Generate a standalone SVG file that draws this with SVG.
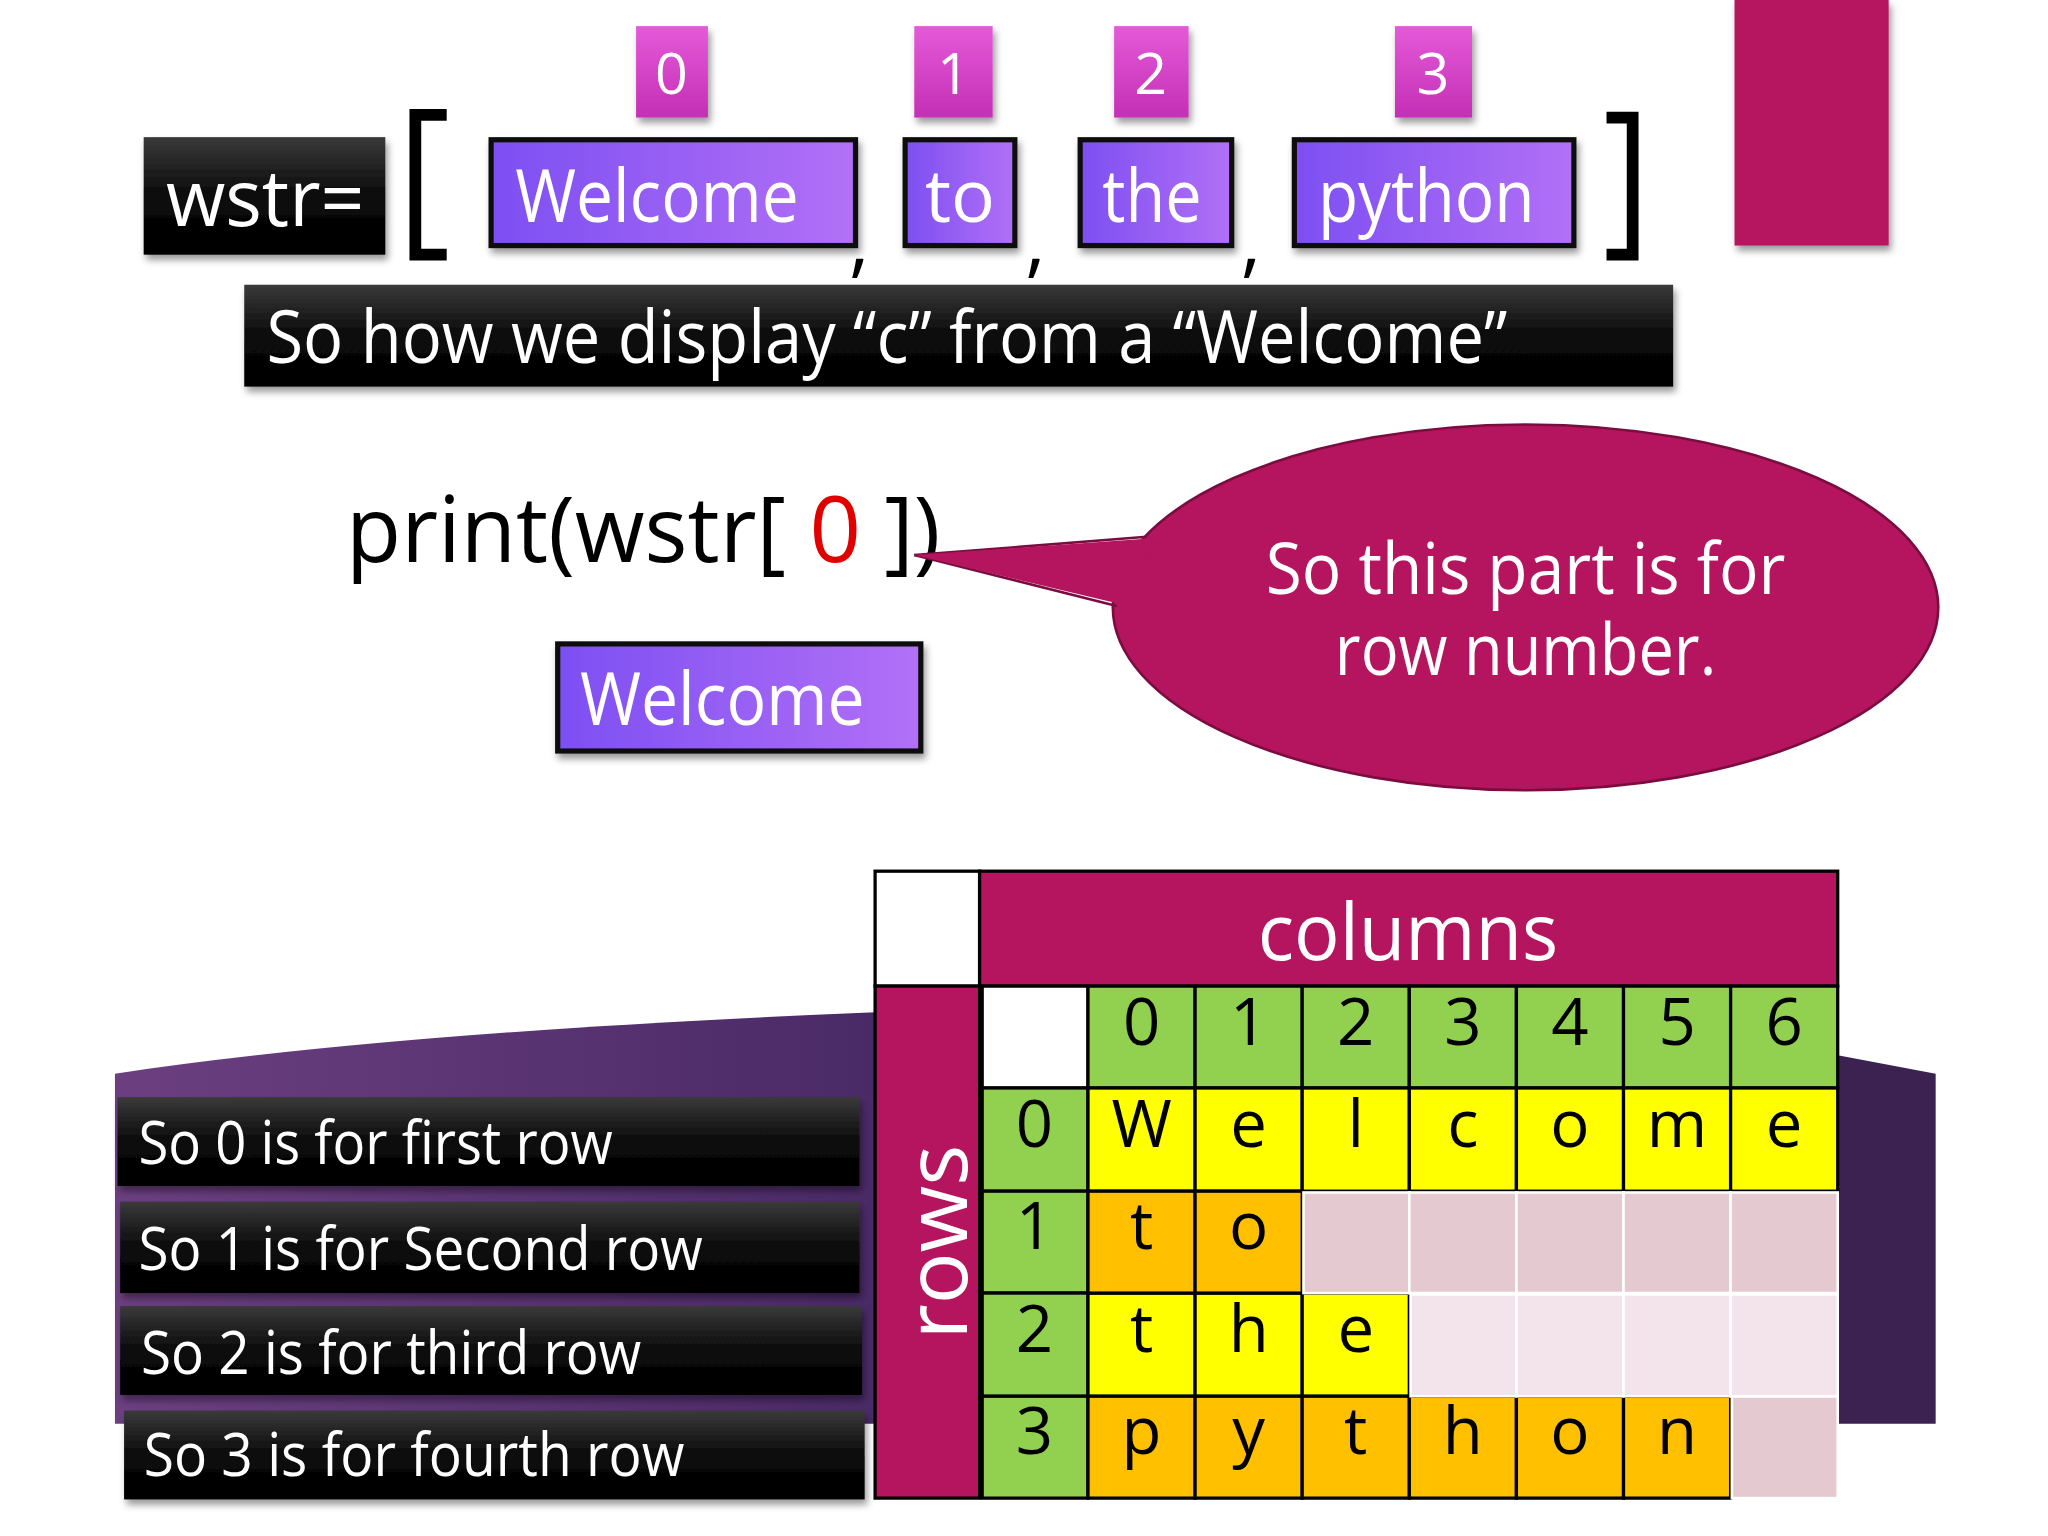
<svg xmlns="http://www.w3.org/2000/svg" width="2048" height="1536" viewBox="0 0 2048 1536">
<style>
text{font-family:"Open Sans","Noto Sans",sans-serif;}
.w{fill:#fff}.k{fill:#000}
.idx{fill:#fff;font-size:44px;text-anchor:middle}
.pb{fill:url(#pg);stroke:#111;stroke-width:4}
.pt{fill:#fff;font-size:56px;text-anchor:middle}
.bb{fill:url(#bg)}
.bt{fill:#fff;font-size:46px}
.c{stroke:#000;stroke-width:2.5}
.ct{font-size:50px;text-anchor:middle;fill:#000}
</style>
<defs>
<linearGradient id="pg" x1="0" y1="0" x2="1" y2="0"><stop offset="0" stop-color="#7d4ff2"/><stop offset="1" stop-color="#b270f6"/></linearGradient>
<linearGradient id="bg" x1="0" y1="0" x2="0" y2="1"><stop offset="0" stop-color="#3a3a3a"/><stop offset="0.5" stop-color="#0a0a0a"/><stop offset="1" stop-color="#000"/></linearGradient>
<linearGradient id="mg" x1="0" y1="0" x2="0" y2="1"><stop offset="0" stop-color="#e45ad8"/><stop offset="1" stop-color="#c42fb5"/></linearGradient>
<linearGradient id="purp" x1="0" y1="0" x2="1" y2="0"><stop offset="0" stop-color="#6b3f80"/><stop offset="1" stop-color="#4a2a66"/></linearGradient>
<filter id="sh" x="-10%" y="-10%" width="130%" height="140%"><feDropShadow dx="2" dy="4" stdDeviation="3" flood-opacity="0.4"/></filter>
</defs>
<g transform="scale(1.30612)">
<g id="bg-shapes">
<rect x="1328" y="0" width="118" height="188" fill="#b5145e" filter="url(#sh)"/>
<path d="M88 822 Q300 790 670 775 L670 1090 L88 1090 Z" fill="url(#purp)"/>
<path d="M1407 808 L1482 822 L1482 1090 L1407 1090Z" fill="#3b2250"/>
</g>
<g id="indices">
<rect x="487" y="20" width="55" height="70" fill="url(#mg)" filter="url(#sh)"/><text class="idx" x="514" y="72">0</text>
<rect x="700" y="20" width="60" height="70" fill="url(#mg)" filter="url(#sh)"/><text class="idx" x="730" y="72">1</text>
<rect x="853" y="20" width="57" height="70" fill="url(#mg)" filter="url(#sh)"/><text class="idx" x="881" y="72">2</text>
<rect x="1068" y="20" width="59" height="70" fill="url(#mg)" filter="url(#sh)"/><text class="idx" x="1097" y="72">3</text>
</g>
<g id="wstr"><rect x="110" y="105" width="185" height="90" class="bb" filter="url(#sh)"/><text x="127" y="173" class="w" font-size="60" textLength="152" lengthAdjust="spacingAndGlyphs">wstr=</text></g>
<g id="brackets">
<path d="M342 88 H318 V195 H342" fill="none" stroke="#000" stroke-width="9"/>
<path d="M1230 90 H1250 V195 H1230" fill="none" stroke="#000" stroke-width="9"/>
<text x="650" y="205" font-size="60" class="k">,</text>
<text x="785" y="205" font-size="60" class="k">,</text>
<text x="950" y="205" font-size="60" class="k">,</text>
</g>
<g id="list">
<rect x="376" y="107" width="279" height="81" class="pb" filter="url(#sh)"/><text class="pt" x="503" y="170" textLength="217" lengthAdjust="spacingAndGlyphs">Welcome</text>
<rect x="693" y="107" width="84" height="81" class="pb" filter="url(#sh)"/><text class="pt" x="735" y="170">to</text>
<rect x="827" y="107" width="116" height="81" class="pb" filter="url(#sh)"/><text class="pt" x="882" y="170" textLength="76" lengthAdjust="spacingAndGlyphs">the</text>
<rect x="991" y="107" width="214" height="81" class="pb" filter="url(#sh)"/><text class="pt" x="1092" y="170" textLength="166" lengthAdjust="spacingAndGlyphs">python</text>
</g>
<g id="question"><rect x="187" y="218" width="1094" height="78" class="bb" filter="url(#sh)"/><text x="204" y="278" class="w" font-size="56" textLength="950" lengthAdjust="spacingAndGlyphs">So how we display “c” from a “Welcome”</text></g>
<g id="print"><text x="265" y="430" font-size="70" class="k" textLength="455" lengthAdjust="spacingAndGlyphs">print(wstr[ <tspan fill="#e00000">0</tspan> ])</text></g>
<g id="callout">
<ellipse cx="1168" cy="465" rx="316" ry="140" fill="#b5145e" stroke="#7a0d40" stroke-width="2"/>
<path d="M700 425 L878 411" stroke="#7a0d40" stroke-width="2"/>
<path d="M700 425 L855 464" stroke="#7a0d40" stroke-width="2"/>
<path d="M700 425 L885 412 L860 463 Z" fill="#b5145e"/>
<text x="1168" y="455" class="w" font-size="54" text-anchor="middle" textLength="398" lengthAdjust="spacingAndGlyphs">So this part is for</text>
<text x="1168" y="517" class="w" font-size="54" text-anchor="middle" textLength="292" lengthAdjust="spacingAndGlyphs">row number.</text>
</g>
<g id="result"><rect x="427" y="493" width="278" height="82" class="pb" filter="url(#sh)"/><text class="pt" x="553" y="555" textLength="218" lengthAdjust="spacingAndGlyphs">Welcome</text></g>
<g id="notes">
<rect x="90" y="840" width="568" height="68" class="bb" filter="url(#sh)"/><text class="bt" x="106" y="891" textLength="363" lengthAdjust="spacingAndGlyphs">So 0 is for first row</text>
<rect x="92" y="920" width="566" height="70" class="bb" filter="url(#sh)"/><text class="bt" x="106" y="972" textLength="432" lengthAdjust="spacingAndGlyphs">So 1 is for Second row</text>
<rect x="92" y="1000" width="568" height="68" class="bb" filter="url(#sh)"/><text class="bt" x="108" y="1052" textLength="383" lengthAdjust="spacingAndGlyphs">So 2 is for third row</text>
<rect x="95" y="1080" width="567" height="68" class="bb" filter="url(#sh)"/><text class="bt" x="110" y="1130" textLength="414" lengthAdjust="spacingAndGlyphs">So 3 is for fourth row</text>
</g>
<g id="table">
<rect x="670" y="667" width="80" height="88" fill="#fff" class="c"/>
<rect x="750" y="667" width="657" height="88" fill="#b5145e" class="c"/>
<text x="1078" y="735" class="w" font-size="60" text-anchor="middle" textLength="230" lengthAdjust="spacingAndGlyphs">columns</text>
<rect x="670" y="755" width="80" height="392" fill="#b5145e" class="c"/>
<text transform="translate(740 951) rotate(-90)" class="w" font-size="66" text-anchor="middle">rows</text>
<rect x="752" y="755" width="81" height="78" fill="#fff" class="c"/>
<g fill="#92d050">
<rect x="833" y="755" width="82" height="78" class="c"/><rect x="915" y="755" width="82" height="78" class="c"/><rect x="997" y="755" width="82" height="78" class="c"/><rect x="1079" y="755" width="82" height="78" class="c"/><rect x="1161" y="755" width="82" height="78" class="c"/><rect x="1243" y="755" width="82" height="78" class="c"/><rect x="1325" y="755" width="82" height="78" class="c"/>
<rect x="752" y="833" width="81" height="79" class="c"/><rect x="752" y="912" width="81" height="78" class="c"/><rect x="752" y="990" width="81" height="79" class="c"/><rect x="752" y="1069" width="81" height="78" class="c"/>
</g>
<g fill="#ffff00">
<rect x="833" y="833" width="82" height="79" class="c"/><rect x="915" y="833" width="82" height="79" class="c"/><rect x="997" y="833" width="82" height="79" class="c"/><rect x="1079" y="833" width="82" height="79" class="c"/><rect x="1161" y="833" width="82" height="79" class="c"/><rect x="1243" y="833" width="82" height="79" class="c"/><rect x="1325" y="833" width="82" height="79" class="c"/>
<rect x="833" y="990" width="82" height="79" class="c"/><rect x="915" y="990" width="82" height="79" class="c"/><rect x="997" y="990" width="82" height="79" class="c"/>
</g>
<g fill="#ffc000">
<rect x="833" y="912" width="82" height="78" class="c"/><rect x="915" y="912" width="82" height="78" class="c"/>
<rect x="833" y="1069" width="82" height="78" class="c"/><rect x="915" y="1069" width="82" height="78" class="c"/><rect x="997" y="1069" width="82" height="78" class="c"/><rect x="1079" y="1069" width="82" height="78" class="c"/><rect x="1161" y="1069" width="82" height="78" class="c"/><rect x="1243" y="1069" width="82" height="78" class="c"/>
</g>
<g stroke="#fff" stroke-width="2">
<g fill="#e5c9d0"><rect x="998" y="913" width="81" height="77"/><rect x="1079" y="913" width="82" height="77"/><rect x="1161" y="913" width="82" height="77"/><rect x="1243" y="913" width="82" height="77"/><rect x="1325" y="913" width="82" height="77"/><rect x="1326" y="1069" width="81" height="78"/></g>
<g fill="#f2e4ea"><rect x="1080" y="991" width="81" height="78"/><rect x="1161" y="991" width="82" height="78"/><rect x="1243" y="991" width="82" height="78"/><rect x="1325" y="991" width="82" height="78"/></g>
</g>
<g class="ct">
<text x="874" y="800">0</text><text x="956" y="800">1</text><text x="1038" y="800">2</text><text x="1120" y="800">3</text><text x="1202" y="800">4</text><text x="1284" y="800">5</text><text x="1366" y="800">6</text>
<text x="792" y="878">0</text><text x="792" y="956">1</text><text x="792" y="1035">2</text><text x="792" y="1113">3</text>
<text x="874" y="878">W</text><text x="956" y="878">e</text><text x="1038" y="878">l</text><text x="1120" y="878">c</text><text x="1202" y="878">o</text><text x="1284" y="878">m</text><text x="1366" y="878">e</text>
<text x="874" y="956">t</text><text x="956" y="956">o</text>
<text x="874" y="1035">t</text><text x="956" y="1035">h</text><text x="1038" y="1035">e</text>
<text x="874" y="1113">p</text><text x="956" y="1113">y</text><text x="1038" y="1113">t</text><text x="1120" y="1113">h</text><text x="1202" y="1113">o</text><text x="1284" y="1113">n</text>
</g>
</g>
</g>
</svg>
